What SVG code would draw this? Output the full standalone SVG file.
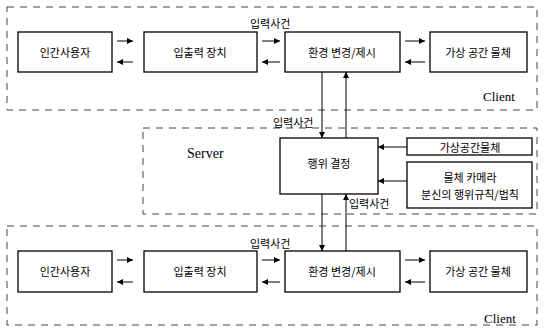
<svg xmlns="http://www.w3.org/2000/svg" width="544" height="329" viewBox="0 0 544 329">
<style>
.box{fill:#fff;stroke:#000;stroke-width:1.3}
.reg{fill:none;stroke:#444;stroke-width:1;stroke-dasharray:7 6}
.t{font-family:"Noto Sans CJK KR","Noto Sans",sans-serif;font-size:11px;fill:#000;text-anchor:middle;dominant-baseline:central}
.lbl{font-family:"Noto Sans CJK KR","Noto Sans",sans-serif;font-size:11px;fill:#000;dominant-baseline:central}
.en{font-family:"Liberation Serif",serif;font-size:13px;fill:#000;dominant-baseline:central}
.c{stroke:#000;stroke-width:1;fill:none;marker-end:url(#ah)}
</style>
<defs>
<marker id="ah" viewBox="0 0 10 10" refX="10" refY="5" markerWidth="6" markerHeight="6" orient="auto" markerUnits="userSpaceOnUse">
<path d="M0,0 L10,5 L0,10 z" fill="#000"/>
</marker>
</defs>
<rect width="544" height="329" fill="#fff"/>
<g id="regions">
<rect class="reg" x="7" y="7" width="530" height="103"/>
<rect class="reg" x="143" y="128" width="394" height="86"/>
<rect class="reg" x="7" y="226" width="530" height="99"/>
<text class="en" x="483" y="96">Client</text>
<text class="en" x="187" y="153" style="font-size:14px">Server</text>
<text class="en" x="484" y="318">Client</text>
</g>
<g id="connectors">
<line class="c" x1="117" y1="41" x2="133" y2="41"/>
<line class="c" x1="133" y1="62" x2="117" y2="62"/>
<line class="c" x1="262" y1="41" x2="280" y2="41"/>
<line class="c" x1="280" y1="62" x2="262" y2="62"/>
<line class="c" x1="405" y1="41" x2="425" y2="41"/>
<line class="c" x1="425" y1="62" x2="405" y2="62"/>
<line class="c" x1="322" y1="72" x2="322" y2="138"/>
<line class="c" x1="346" y1="138" x2="346" y2="72"/>
<line class="c" x1="407" y1="147" x2="378" y2="147"/>
<line class="c" x1="407" y1="181" x2="378" y2="181"/>
<line class="c" x1="322" y1="194" x2="322" y2="251"/>
<line class="c" x1="346" y1="251" x2="346" y2="194"/>
<line class="c" x1="117" y1="260" x2="133" y2="260"/>
<line class="c" x1="133" y1="282" x2="117" y2="282"/>
<line class="c" x1="262" y1="260" x2="280" y2="260"/>
<line class="c" x1="280" y1="282" x2="262" y2="282"/>
<line class="c" x1="405" y1="260" x2="425" y2="260"/>
<line class="c" x1="425" y1="282" x2="405" y2="282"/>
<text class="lbl" x="250" y="23">입력사건</text>
<text class="lbl" x="273" y="122">입력사건</text>
<text class="lbl" x="349" y="203">입력사건</text>
<text class="lbl" x="250" y="243">입력사건</text>
</g>
<g id="top-user"><rect class="box" x="18" y="32" width="94" height="40"/><text class="t" x="65" y="52">인간사용자</text></g>
<g id="top-io"><rect class="box" x="144" y="32" width="113" height="40"/><text class="t" x="200" y="52">입출력 장치</text></g>
<g id="top-env"><rect class="box" x="285" y="32" width="115" height="40"/><text class="t" x="342" y="52">환경 변경/제시</text></g>
<g id="top-obj"><rect class="box" x="430" y="32" width="97" height="40"/><text class="t" x="478" y="52">가상 공간 물체</text></g>
<g id="server-decide"><rect class="box" x="280" y="138" width="98" height="56"/><text class="t" x="329" y="163">행위 결정</text></g>
<g id="server-obj"><rect class="box" x="407" y="138" width="125" height="17"/><text class="t" x="470" y="147">가상공간물체</text></g>
<g id="server-rules"><rect class="box" x="407" y="162" width="125" height="46"/><text class="t" x="470" y="177">물체 카메라</text><text class="t" x="470" y="194">분신의 행위규칙/법칙</text></g>
<g id="bot-user"><rect class="box" x="18" y="251" width="94" height="41"/><text class="t" x="65" y="271">인간사용자</text></g>
<g id="bot-io"><rect class="box" x="144" y="251" width="113" height="41"/><text class="t" x="200" y="271">입출력 장치</text></g>
<g id="bot-env"><rect class="box" x="285" y="251" width="115" height="41"/><text class="t" x="342" y="271">환경 변경/제시</text></g>
<g id="bot-obj"><rect class="box" x="430" y="251" width="97" height="41"/><text class="t" x="478" y="271">가상 공간 물체</text></g>
</svg>
